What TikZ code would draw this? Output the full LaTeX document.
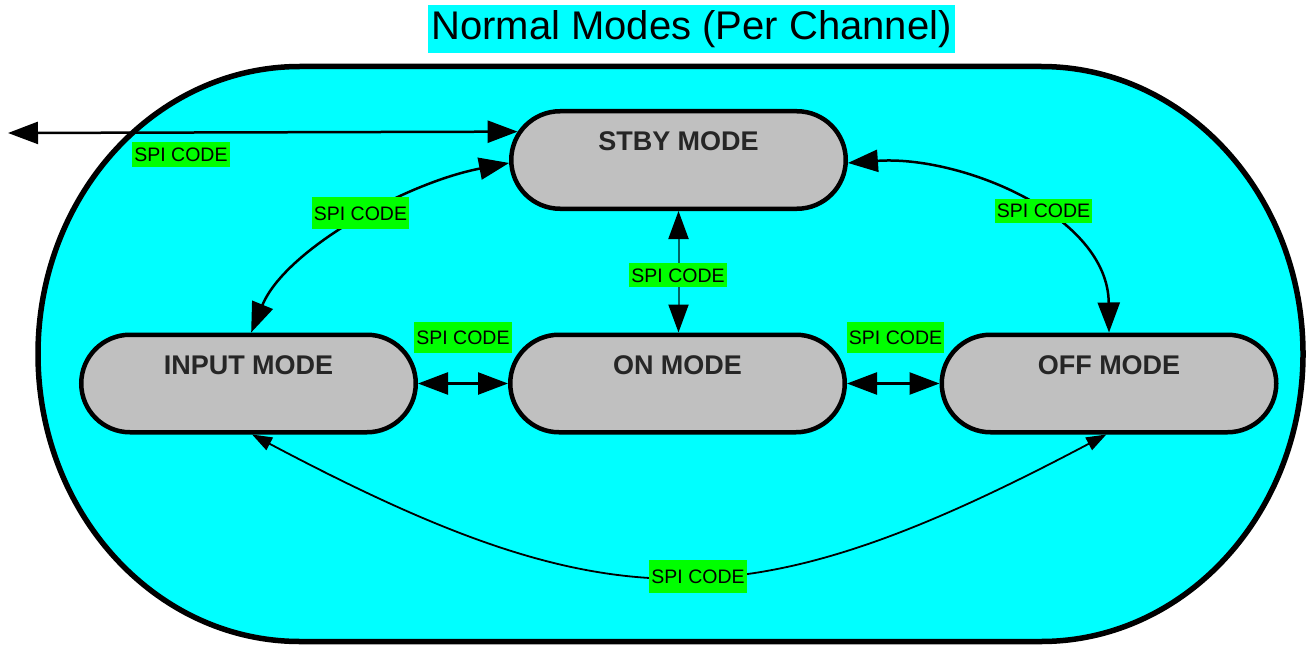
\documentclass[tikz,border=0pt]{standalone}
\usepackage{fontspec}
\setmainfont{Liberation Sans}
\usetikzlibrary{arrows.meta,shapes.misc}
\definecolor{bgcyan}{RGB}{0,255,255}
\definecolor{modegray}{RGB}{192,192,192}
\definecolor{spigreen}{RGB}{0,255,0}
\definecolor{tealline}{RGB}{0,100,100}
\begin{document}
\begin{tikzpicture}[x=1pt,y=-1pt,
  mode/.style={rounded rectangle, draw=black, line width=4.5pt, fill=modegray,
    minimum width=334.5pt, minimum height=97.5pt,
    font=\fontsize{27}{30}\selectfont\bfseries, text=black!85,
    text height=20pt, text depth=38pt, inner sep=0pt},
  spi/.style={fill=spigreen, font=\fontsize{19.5}{22}\selectfont,
    inner xsep=2pt, inner ysep=0pt, text height=14pt, text depth=0pt},
  conn/.style={line width=2.5pt,
    {Triangle[length=30pt,width=22pt]}-{Triangle[length=30pt,width=22pt]}},
  thinconn/.style={line width=1.8pt,
    {Triangle[length=20pt,width=14pt]}-{Triangle[length=20pt,width=14pt]}}]
\useasboundingbox (0,0) rectangle (1308,647);
% outer container
\draw[line width=5.5pt, fill=bgcyan]
  (300,66.5) -- (1041,66.5)
  .. controls (1185.7,66.5) and (1303,195.2) .. (1303,354)
  .. controls (1303,512.8) and (1185.7,641.5) .. (1041,641.5)
  -- (300,641.5)
  .. controls (155.3,641.5) and (38,512.8) .. (38,354)
  .. controls (38,195.2) and (155.3,66.5) .. (300,66.5) -- cycle;
% title
\node[fill=bgcyan, minimum width=527pt, minimum height=48pt, inner sep=0pt,
  font=\fontsize{40}{44}\selectfont] (title) at (691.5,29.5) {Normal Modes (Per Channel)};
% modes
\node[mode] (stby) at (678.5,160) {STBY MODE};
\node[mode] (input) at (248.5,383.5) {INPUT MODE};
\node[mode] (on) at (677.5,383.5) {ON MODE};
\node[mode] (off) at (1109,383.5) {OFF MODE};
% connectors
\coordinate (ext) at (8,133);
\draw[conn] (ext) -- (stby.170.4);
\draw[conn] (stby.181) .. controls (405,183) and (285,250) .. (input.87);
\draw[conn] (stby.359) .. controls (960,155) and (1108,215) .. (off.north);
\draw[line width=2pt, draw=tealline,
  {Triangle[length=28pt,width=20pt,color=black]}-{Triangle[length=28pt,width=20pt,color=black]}]
  (stby.south) -- (stby.south |- on.north);
\draw[conn] (input.east) -- (on.west);
\draw[conn] (on.east) -- (off.west);
\draw[thinconn] (input.274) .. controls (610,624) and (748,624) .. (off.267);
% labels
\node[spi, minimum height=25pt] (l1) at (181,154.5) {SPI CODE};
\node[spi, minimum height=32pt] (l2) at (360.5,213) {SPI CODE};
\node[spi, minimum height=24pt] (l3) at (1043.5,211) {SPI CODE};
\node[spi, minimum height=24pt] (l4) at (678,275) {SPI CODE};
\node[spi, minimum height=31pt] (l5) at (463,337.5) {SPI CODE};
\node[spi, minimum height=31pt] (l6) at (895.5,337.5) {SPI CODE};
\node[spi, minimum height=33pt] (l7) at (698,576.5) {SPI CODE};
\end{tikzpicture}
\end{document}
